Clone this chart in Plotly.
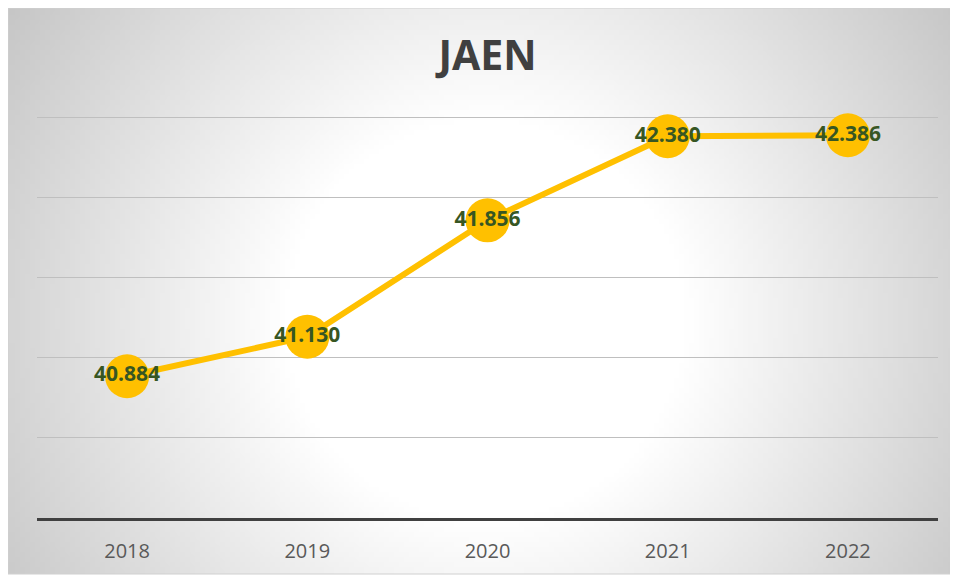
import base64, struct, zlib
import plotly.graph_objects as go

years = ["2018", "2019", "2020", "2021", "2022"]
values = [40884, 41130, 41856, 42380, 42386]
title_text = "JAEN"

OFF = 8  # page body margin
# chart area in page px
cx0, cx1, cy0, cy1 = 8, 955, 8, 574


def radial_png(w, h, ccx, ccy, r0=200.0, r1=569.0, edge=198):
    sx = (cx1 - cx0) / w
    sy = (cy1 - cy0) / h
    rows = []
    for j in range(h):
        row = bytearray([0])
        py = cy0 + (j + 0.5) * sy
        for i in range(w):
            px = cx0 + (i + 0.5) * sx
            d = ((px - ccx) ** 2 + (py - ccy) ** 2) ** 0.5
            t = max(0.0, min(1.0, (d - r0) / (r1 - r0)))
            c = int(round(255 - (255 - edge) * t))
            row += bytes([c, c, c])
        rows.append(bytes(row))
    raw = b"".join(rows)

    def chunk(tag, data):
        c = struct.pack(">I", len(data)) + tag + data
        return c + struct.pack(">I", zlib.crc32(tag + data) & 0xFFFFFFFF)

    png = b"\x89PNG\r\n\x1a\n"
    png += chunk(b"IHDR", struct.pack(">IIBBBBB", w, h, 8, 2, 0, 0, 0))
    png += chunk(b"IDAT", zlib.compress(raw, 9))
    png += chunk(b"IEND", b"")
    return "data:image/png;base64," + base64.b64encode(png).decode()


bg = radial_png(190, 114, 485, 320)

FW, FH = 958 - OFF, 577 - OFF
# plot area in page px: x 37..938, y 113..518 (42500 gridline at 117)
L, R, T, B = 37, 938, 113, 518
pw, ph = R - L, B - T
ytop = 40000 + 2500 * ph / (B - 117)

def px2x(px):
    return (px - L) / pw
def py2y(py):
    return (B - py) / ph

fig = go.Figure()
fig.add_trace(go.Scatter(
    x=years, y=values, mode="lines+markers+text",
    line=dict(color="#FFC000", width=6),
    marker=dict(color="#FFC000", size=44),
    texttemplate="<b>%{y:,.0f}</b>", textposition="middle center",
    textfont=dict(family="Open Sans", size=21, color="#375623"),
    hoverinfo="skip", cliponaxis=False,
))

fig.update_layout(
    width=FW, height=FH,
    margin=dict(l=L - OFF, r=958 - R, t=T - OFF, b=577 - B, pad=0),
    paper_bgcolor="white", plot_bgcolor="rgba(0,0,0,0)",
    separators=",.",
    showlegend=False,
    title=dict(text="<b>" + title_text + "</b>", x=0.5, xref="paper", y=1 - (56 - OFF) / FH,
               yanchor="middle", xanchor="center",
               font=dict(family="Open Sans", size=41, color="#404040")),
    xaxis=dict(type="category", range=[-0.5, 4.5], showgrid=False, zeroline=False,
               showline=True, linecolor="#404040", linewidth=3,
               ticks="outside", ticklen=13, tickcolor="rgba(0,0,0,0)",
               tickfont=dict(family="Open Sans", size=20, color="#595959")),
    yaxis=dict(range=[40000, ytop], dtick=500, tick0=40000, showticklabels=False,
               showgrid=True, gridcolor="#bfbfbf", gridwidth=1, zeroline=False,
               showline=False),
    images=[dict(source=bg, xref="paper", yref="paper",
                 x=px2x(cx0), y=py2y(cy0), sizex=px2x(cx1) - px2x(cx0),
                 sizey=py2y(cy0) - py2y(cy1), xanchor="left", yanchor="top",
                 sizing="stretch", layer="below")],
    shapes=[dict(type="rect", xref="paper", yref="paper",
                 x0=px2x(cx0), x1=px2x(cx1), y0=py2y(cy1), y1=py2y(cy0),
                 line=dict(color="#d0d0d0", width=1), layer="below")],
)

fig.write_html("out.html")
